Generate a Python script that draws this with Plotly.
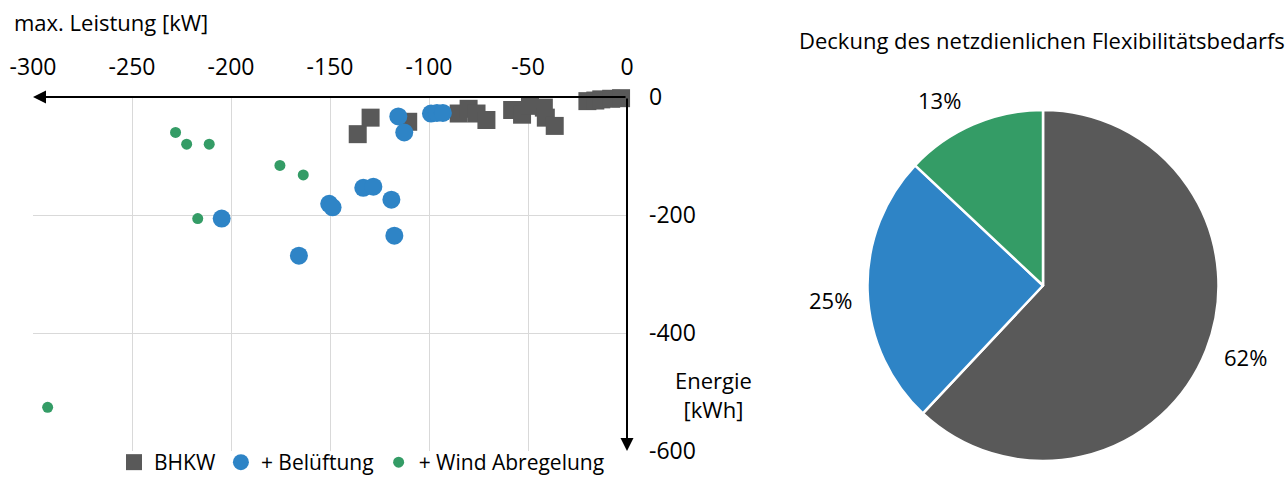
import plotly.graph_objects as go

# --- scatter data: max. Leistung [kW] vs. Energie [kWh] ---
bhkw_kw = [-136, -129.5, -110.5, -85, -80, -76, -71, -58, -53, -49, -42, -41, -36.5, -20, -16, -13, -8, -3]
bhkw_kwh = [-63, -35, -42, -28, -20, -28, -39, -22, -30, -15, -18, -35, -49, -7, -6, -4, -3, -2]

belueftung_kw = [-204.7, -165.7, -150.4, -148.7, -133.2, -128.1, -119, -117.5, -115.5, -112.5, -99, -96, -93]
belueftung_kwh = [-206, -269, -181, -187, -154, -152, -174, -235, -33, -60, -28, -27, -27]

wind_kw = [-228, -222.4, -211, -175.3, -163.5, -216.8, -292.6]
wind_kwh = [-60, -80, -80, -116, -132, -206, -526]

x_ticks = [-300, -250, -200, -150, -100, -50, 0]
x_tick_text = ["-300", "-250", "-200", "-150", "-100", "-50", "0"]
y_ticks = [0, -200, -400, -600]
y_tick_text = ["0", "-200", "-400", "-600"]

# --- pie data: Deckung des netzdienlichen Flexibilitätsbedarfs ---
pie_labels = ["BHKW", "+ Belüftung", "+ Wind Abregelung"]
pie_values = [62, 25, 13]

GRAY = "#595959"
BLUE = "#2E84C6"
GREEN = "#349C66"
FONT = "Open Sans"
W, H = 1288, 483

fig = go.Figure()

fig.add_trace(go.Scatter(
    x=bhkw_kw, y=bhkw_kwh, mode="markers", name="BHKW",
    marker=dict(symbol="square", size=18, color=GRAY, line=dict(width=0)),
    cliponaxis=False,
))
fig.add_trace(go.Scatter(
    x=belueftung_kw, y=belueftung_kwh, mode="markers", name="+ Belüftung",
    marker=dict(symbol="circle", size=18, color=BLUE, line=dict(width=0)),
    cliponaxis=False,
))
fig.add_trace(go.Scatter(
    x=wind_kw, y=wind_kwh, mode="markers", name="+ Wind Abregelung",
    marker=dict(symbol="circle", size=11, color=GREEN, line=dict(width=0)),
    cliponaxis=False,
))

fig.add_trace(go.Pie(
    labels=pie_labels, values=pie_values, sort=False, direction="clockwise",
    rotation=0, marker=dict(colors=[GRAY, BLUE, GREEN], line=dict(color="white", width=2.5)),
    textinfo="none", hoverinfo="label+percent", showlegend=False,
    domain=dict(x=[867 / W, 1219 / W], y=[22 / H, 373 / H]),
))

# percentage labels placed around the pie
total = sum(pie_values)
pct = [f"{round(v / total * 100)}%" for v in pie_values]
label_pos = [(1245, 357), (830, 300), (939, 100)]
annotations = []
for txt, (px, py) in zip(pct, label_pos):
    annotations.append(dict(
        x=px / W, y=1 - py / H, xref="paper", yref="paper", text=txt,
        showarrow=False, font=dict(size=22, color="#000000", family=FONT),
        xanchor="center", yanchor="middle",
    ))

# axis arrows along x = 0 and y = 0
annotations.append(dict(
    x=-300, y=0, ax=0, ay=0, xref="x", yref="y", axref="x", ayref="y",
    showarrow=True, arrowhead=2, arrowsize=1.3, arrowwidth=2, arrowcolor="#000000", text="",
))
annotations.append(dict(
    x=0, y=-600, ax=0, ay=0, xref="x", yref="y", axref="x", ayref="y",
    showarrow=True, arrowhead=2, arrowsize=1.3, arrowwidth=2, arrowcolor="#000000", text="",
))

# axis titles and pie title
annotations.append(dict(
    x=12 / W, y=1 - 22 / H, xref="paper", yref="paper", text="max. Leistung [kW]",
    showarrow=False, xanchor="left", yanchor="middle",
    font=dict(size=22, color="#000000", family=FONT),
))
annotations.append(dict(
    x=713 / W, y=1 - 394 / H, xref="paper", yref="paper", text="Energie<br>[kWh]",
    showarrow=False, xanchor="center", yanchor="middle", align="center",
    font=dict(size=22, color="#000000", family=FONT),
))
annotations.append(dict(
    x=1042 / W, y=1 - 40 / H, xref="paper", yref="paper",
    text="Deckung des netzdienlichen Flexibilitätsbedarfs",
    showarrow=False, xanchor="center", yanchor="middle",
    font=dict(size=22, color="#000000", family=FONT),
))

fig.update_layout(
    width=W, height=H,
    margin=dict(l=0, r=0, t=0, b=0, autoexpand=False),
    paper_bgcolor="white", plot_bgcolor="white",
    font=dict(family=FONT, size=22, color="#000000"),
    xaxis=dict(
        domain=[33 / W, 627 / W], range=[-300, 0], side="top",
        tickvals=x_ticks, ticktext=x_tick_text, ticks="", ticklabelstandoff=16,
        tickfont=dict(size=23), automargin=False,
        showgrid=True, gridcolor="#D9D9D9", gridwidth=1, zeroline=False,
        showline=False, fixedrange=True,
    ),
    yaxis=dict(
        domain=[32 / H, 386 / H], range=[-600, 0], side="right",
        tickvals=y_ticks, ticktext=y_tick_text, ticks="", ticklabelstandoff=21,
        tickfont=dict(size=23), automargin=False,
        showgrid=True, gridcolor="#D9D9D9", gridwidth=1, zeroline=False,
        showline=False, fixedrange=True,
    ),
    legend=dict(
        orientation="h", x=114 / W, xanchor="left", y=0, yanchor="bottom",
        font=dict(size=21, family=FONT), bgcolor="rgba(0,0,0,0)",
        itemsizing="trace",
    ),
    annotations=annotations,
)

fig.write_html("out.html")
